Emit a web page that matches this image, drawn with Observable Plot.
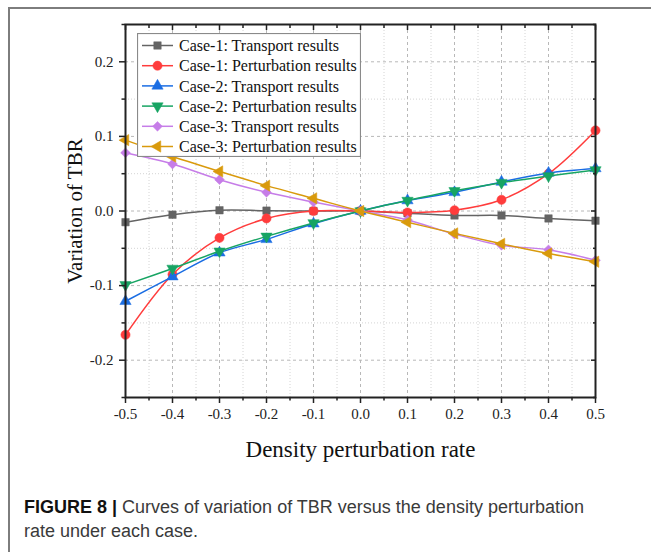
<!DOCTYPE html>
<html><head><meta charset="utf-8">
<script src="https://cdn.jsdelivr.net/npm/d3@7"></script>
<script src="https://cdn.jsdelivr.net/npm/@observablehq/plot@0.6"></script>
<style>
body{margin:0;background:#fff;width:651px;height:552px;overflow:hidden;position:relative;}
#border{position:absolute;left:8px;top:7px;width:700px;height:600px;border-left:2px solid #7d7d7d;border-top:2px solid #7d7d7d;}
#chart{position:absolute;left:0;top:0;}
#legend{position:absolute;left:137px;top:33px;}
#caption{position:absolute;left:24px;top:496px;width:627px;font-family:"Liberation Sans",Arial,sans-serif;font-size:18px;line-height:23.5px;color:#3a3a3a;white-space:nowrap;}
#caption b{color:#111;}
</style></head>
<body>
<div id="border"></div>
<div id="chart"></div>
<div id="legend"></div>
<div id="caption"><b>FIGURE 8 |</b> Curves of variation of TBR versus the density perturbation<br>rate under each case.</div>
<script>
const rates = [-0.5,-0.4,-0.3,-0.2,-0.1,0,0.1,0.2,0.3,0.4,0.5];
const case1Transport    = [-0.015,-0.005,0.001,0.0005,0.0,0,-0.003,-0.006,-0.006,-0.010,-0.013];
const case1Perturbation = [-0.166,-0.085,-0.036,-0.010,0.000,0,-0.002,0.001,0.015,0.050,0.108];
const case2Transport    = [-0.121,-0.088,-0.056,-0.038,-0.017,0,0.014,0.025,0.039,0.051,0.057];
const case2Perturbation = [-0.099,-0.077,-0.054,-0.034,-0.016,0,0.014,0.027,0.038,0.047,0.055];
const case3Transport    = [0.078,0.063,0.042,0.025,0.012,0,-0.012,-0.031,-0.046,-0.052,-0.066];
const case3Perturbation = [0.095,0.073,0.053,0.034,0.017,0,-0.015,-0.030,-0.044,-0.057,-0.068];

const seriesNames = ["Case-1: Transport results","Case-1: Perturbation results","Case-2: Transport results","Case-2: Perturbation results","Case-3: Transport results","Case-3: Perturbation results"];
const seriesValues = [case1Transport,case1Perturbation,case2Transport,case2Perturbation,case3Transport,case3Perturbation];
const seriesColors = ["#646464","#ff3c3c","#1a6de3","#17a463","#c67de8","#d99a0c"];

const xTicks = [-0.5,-0.4,-0.3,-0.2,-0.1,0,0.1,0.2,0.3,0.4,0.5];
const xMinor = [-0.45,-0.35,-0.25,-0.15,-0.05,0.05,0.15,0.25,0.35,0.45];
const yTicks = [-0.2,-0.1,0,0.1,0.2];
const yMinor = [-0.25,-0.15,-0.05,0.05,0.15,0.25];
const xGrid = [-0.4,-0.3,-0.2,-0.1,0,0.1,0.2,0.3,0.4];
const yGrid = [-0.2,-0.1,0,0.1,0.2];

const sqrt3 = Math.sqrt(3);
const triDown = {draw(c, size){const y=-Math.sqrt(size/(sqrt3*3)); c.moveTo(0,-y*2); c.lineTo(-sqrt3*y,y); c.lineTo(sqrt3*y,y); c.closePath();}};
const triLeft = {draw(c, size){const y=-Math.sqrt(size/(sqrt3*3)); c.moveTo(y*2,0); c.lineTo(-y,-sqrt3*y); c.lineTo(-y,sqrt3*y); c.closePath();}};
const seriesSymbols = [d3.symbolSquare, d3.symbolCircle, d3.symbolTriangle, triDown, d3.symbolDiamond2, triLeft];
const seriesR = [4.2, 4.6, 4.2, 4.2, 4.4, 4.2];

const fmt = d => d3.format(".1f")(d).replace("\u2212","-");
const serif = "'Liberation Serif','Times New Roman',serif";

const marks = [
  Plot.gridX(xMinor, {stroke:"#d4d4d4", strokeOpacity:1, strokeDasharray:"1,2"}),
  Plot.gridY(yMinor, {stroke:"#d4d4d4", strokeOpacity:1, strokeDasharray:"1,2"}),
  Plot.gridX(xGrid, {stroke:"#b8b8b8", strokeOpacity:1, strokeDasharray:"3,3"}),
  Plot.gridY(yGrid, {stroke:"#b8b8b8", strokeOpacity:1, strokeDasharray:"3,3"})
];
seriesValues.forEach((vals, i) => {
  const data = rates.map((r, j) => ({x: r, y: vals[j]}));
  marks.push(Plot.line(data, {x:"x", y:"y", stroke: seriesColors[i], strokeWidth:1.5, curve:"catmull-rom"}));
  marks.push(Plot.dot(data, {x:"x", y:"y", fill: seriesColors[i], stroke: seriesColors[i], strokeWidth:0.5, symbol: seriesSymbols[i], r: seriesR[i]}));
});
marks.push(
  Plot.frame({stroke:"#222", strokeWidth:2}),
  Plot.axisX(xTicks, {anchor:"bottom", tickSize:6, tickPadding:5, tickFormat: fmt, label:null, fontSize:15, strokeWidth:1.5}),
  Plot.axisX(xMinor, {anchor:"bottom", tickSize:3.5, tickFormat: () => "", label:null, strokeWidth:1.5}),
  Plot.axisY(yTicks, {anchor:"left", tickSize:6, tickPadding:6, tickFormat: fmt, label:null, fontSize:15, strokeWidth:1.5}),
  Plot.axisY(yMinor, {anchor:"left", tickSize:3.5, tickFormat: () => "", label:null, strokeWidth:1.5}),
  Plot.axisX(xTicks, {anchor:"top", tickSize:-5, tickFormat: () => "", label:null, strokeWidth:1.5}),
  Plot.axisX(xMinor, {anchor:"top", tickSize:-3, tickFormat: () => "", label:null, strokeWidth:1.5}),
  Plot.axisY(yTicks, {anchor:"right", tickSize:-5, tickFormat: () => "", label:null, strokeWidth:1.5}),
  Plot.axisY(yMinor, {anchor:"right", tickSize:-3, tickFormat: () => "", label:null, strokeWidth:1.5}),
  Plot.text(["Density perturbation rate"], {frameAnchor:"bottom", dy:59, text: d => d, fontSize:23, fill:"#111"}),
  Plot.text(["Variation of TBR"], {frameAnchor:"left", textAnchor:"middle", dx:-50, rotate:-90, text: d => d, fontSize:21, fill:"#111"})
);

const chart = Plot.plot({
  width:651, height:470,
  marginLeft:125, marginRight:56, marginTop:24, marginBottom:73,
  x:{domain:[-0.5,0.5]}, y:{domain:[-0.25,0.25]},
  style:{fontFamily:serif, fontSize:"15px", color:"#222", background:"transparent", overflow:"visible"},
  marks
});
document.getElementById("chart").appendChild(chart);

// legend
const lw = 224, lh = 124;
const lg = d3.select("#legend").append("svg").attr("width", lw).attr("height", lh);
lg.append("rect").attr("x",0.5).attr("y",0.5).attr("width",lw-1).attr("height",lh-1).attr("fill","#fff").attr("stroke","#8a8a8a").attr("stroke-width",1.2);
seriesNames.forEach((name, i) => {
  const cy = 12.5 + i*20.2;
  const g = lg.append("g");
  g.append("line").attr("x1",5).attr("x2",36).attr("y1",cy).attr("y2",cy).attr("stroke",seriesColors[i]).attr("stroke-width",1.5);
  g.append("path").attr("d", d3.symbol(seriesSymbols[i], Math.PI*seriesR[i]*seriesR[i])()).attr("transform",`translate(20.5,${cy})`).attr("fill",seriesColors[i]).attr("stroke",seriesColors[i]).attr("stroke-width",0.5);
  g.append("text").attr("x",42).attr("y",cy).attr("dy","0.35em").attr("font-family",serif).attr("font-size","16px").attr("fill","#111").text(name);
});
</script>
</body></html>
